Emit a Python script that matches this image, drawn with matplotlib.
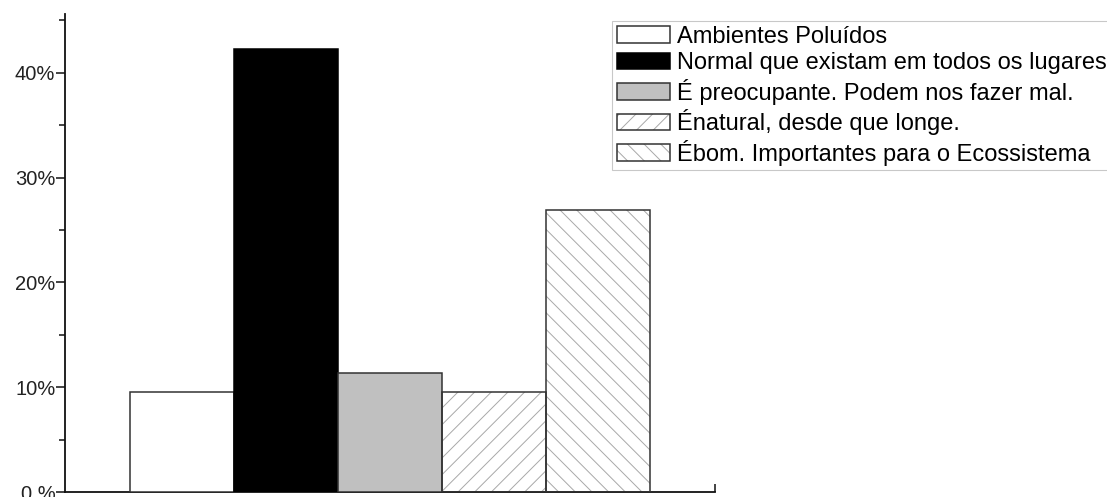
import matplotlib
matplotlib.use("Agg")
import matplotlib.pyplot as plt
from matplotlib.patches import Patch
from matplotlib.legend_handler import HandlerTuple

categories = ["Ambientes Poluídos",
              "Normal que existam em todos os lugares",
              "É preocupante. Podem nos fazer mal.",
              "Énatural, desde que longe.",
              "Ébom. Importantes para o Ecossistema"]
values = [9.5, 42.3, 11.4, 9.5, 26.9]
yticks = [0, 10, 20, 30, 40]
ytick_labels = ["0 %", "10%", "20%", "30%", "40%"]

faces = ["white", "black", "#c0c0c0", "white", "white"]
edges = ["#333333", "black", "#333333", "#333333", "#333333"]
hatches = [None, None, None, "//", "\\\\"]
hatch_cols = [None, None, None, "#a8a8a8", "#a8a8a8"]

plt.rcParams["font.family"] = ["Liberation Sans", "DejaVu Sans"]
plt.rcParams["hatch.linewidth"] = 0.7

fig = plt.figure(figsize=(11.07, 4.97), dpi=100)
ax = fig.add_axes([65/1107, 5/497, 650/1107, 478/497])

xs = list(range(len(values)))
handles = []
for x, v, fc, ec, h, hc, lab in zip(xs, values, faces, edges, hatches, hatch_cols, categories):
    if h:
        ax.bar(x, v, width=1.0, color=fc, edgecolor=hc, hatch=h, linewidth=0, zorder=2)
        ax.bar(x, v, width=1.0, fill=False, edgecolor=ec, linewidth=1.1, zorder=3)
        hp = Patch(facecolor=fc, edgecolor=hc, hatch=h, linewidth=0)
        op = Patch(fill=False, edgecolor=ec, linewidth=1.1)
        handles.append((hp, op))
    else:
        ax.bar(x, v, width=1.0, color=fc, edgecolor=ec, linewidth=1.1, zorder=3)
        handles.append(Patch(facecolor=fc, edgecolor=ec, linewidth=1.1))

unit = 104.0
ax.set_xlim(-0.5 - 65/unit, 4.5 + 65/unit)
ax.set_ylim(0, 45.6)

for s in ["top", "right"]:
    ax.spines[s].set_visible(False)
for s in ["left", "bottom"]:
    ax.spines[s].set_linewidth(1.3)
    ax.spines[s].set_color("#111111")

ax.set_yticks(yticks)
ax.set_yticklabels(ytick_labels, fontsize=14.5, color="#222222")
ax.set_yticks([5, 15, 25, 35, 45], minor=True)
ax.tick_params(axis="y", which="major", length=6.5, width=1.1, pad=0.5, color="#111111")
ax.tick_params(axis="y", which="minor", length=4, width=1.1, color="#111111")

ax.set_xticks([(389 - 130) / unit - 0.5, 4.5 + 65/unit])
ax.set_xticklabels([])
ax.tick_params(axis="x", which="major", direction="in", length=6, width=1.1, color="#111111")

leg = ax.legend(handles, categories, handler_map={tuple: HandlerTuple(ndivide=1, pad=0)},
                loc="upper left", bbox_to_anchor=(612/1107, 1 - 21/497),
                bbox_transform=fig.transFigure, fontsize=17, frameon=True, fancybox=False,
                handlelength=2.25, handleheight=0.72, handletextpad=0.3,
                labelspacing=0.19, borderpad=0.2, borderaxespad=0)
leg.get_frame().set_edgecolor("#bbbbbb")
leg.get_frame().set_linewidth(0.8)

fig.savefig("out.png", dpi=100)
